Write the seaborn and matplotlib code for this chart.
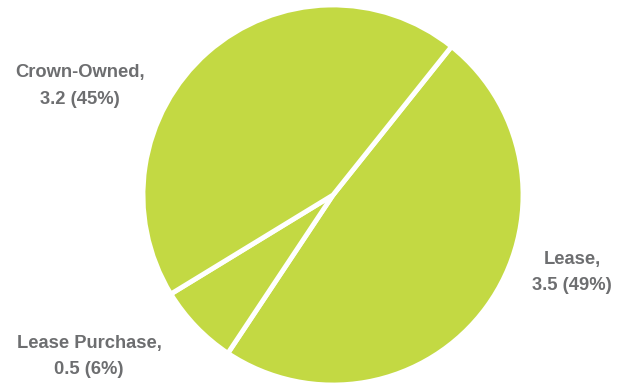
import matplotlib
matplotlib.use("Agg")
import matplotlib.pyplot as plt
import seaborn as sns

categories = ["Lease", "Lease Purchase", "Crown-Owned"]
values = [3.5, 0.5, 3.2]
pct_labels = ["49%", "6%", "45%"]

sns.set_theme(style="white")
plt.rcParams['font.family'] = ['Liberation Sans Narrow', 'Liberation Sans', 'DejaVu Sans']

W, H = 623, 386
fig = plt.figure(figsize=(W / 100, H / 100), dpi=100)
cx, cy, r = 333, 195, 190
ax = fig.add_axes([(cx - r) / W, (H - cy - r) / H, 2 * r / W, 2 * r / H])
green = "#c3d943"
ax.pie(values, colors=[green] * 3, startangle=51.4, counterclock=False, radius=1,
       wedgeprops=dict(edgecolor="white", linewidth=3.5))
ax.set_xlim(-1.0, 1.0)
ax.set_ylim(-1.0, 1.0)
ax.set_aspect("equal")
ax.axis("off")

# label anchor: (x center, first baseline, second baseline) in pixels
label_pos = {"Lease": (572, 264, 290), "Lease Purchase": (89, 348, 374), "Crown-Owned": (80, 77, 104)}
for cat, v, p in zip(categories, values, pct_labels):
    x, y1, y2 = label_pos[cat]
    kw = dict(ha="center", va="baseline", fontsize=13.2, fontweight="bold", color="#6d6e70")
    fig.text(x / W, 1 - y1 / H, f"{cat},", **kw)
    fig.text(x / W, 1 - y2 / H, f"{v} ({p})", **kw)

fig.savefig("out.png", dpi=100, facecolor="white")
